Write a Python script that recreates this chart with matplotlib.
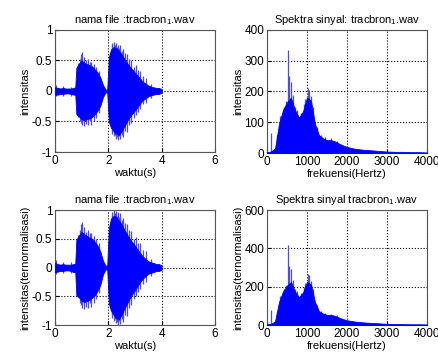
import numpy as np
import matplotlib
matplotlib.use('Agg')
import matplotlib.pyplot as plt

plt.rcParams['font.family'] = ['Liberation Sans', 'DejaVu Sans']

# Sinyal waktu (envelope atas/bawah)
waktu = [0.0, 0.1, 0.2, 0.3, 0.4, 0.5, 0.6, 0.7, 0.76, 0.8, 0.9, 1.0, 1.1, 1.2, 1.3,
         1.4, 1.5, 1.6, 1.7, 1.8, 1.9, 1.96, 2.02, 2.1, 2.2, 2.3, 2.4, 2.5, 2.6, 2.7,
         2.8, 2.9, 3.0, 3.1, 3.2, 3.3, 3.4, 3.5, 3.6, 3.7, 3.8, 3.9, 4.0]
atas1 = [0.06, 0.05, 0.04, 0.05, 0.04, 0.04, 0.04, 0.05, 0.06, 0.38, 0.45, 0.50, 0.46,
         0.44, 0.42, 0.40, 0.35, 0.30, 0.22, 0.10, 0.02, 0.03, 0.55, 0.68, 0.72, 0.70,
         0.66, 0.60, 0.53, 0.46, 0.40, 0.35, 0.30, 0.25, 0.20, 0.15, 0.12, 0.09, 0.07,
         0.06, 0.05, 0.05, 0.03]
bawah1 = [-0.06, -0.06, -0.05, -0.05, -0.04, -0.04, -0.05, -0.06, -0.06, -0.38, -0.42,
          -0.46, -0.48, -0.46, -0.45, -0.42, -0.38, -0.32, -0.24, -0.10, -0.02, -0.03,
          -0.50, -0.60, -0.66, -0.70, -0.72, -0.66, -0.58, -0.50, -0.43, -0.37, -0.32,
          -0.26, -0.20, -0.15, -0.12, -0.09, -0.07, -0.06, -0.05, -0.05, -0.03]
atas2 = [0.08, 0.06, 0.05, 0.06, 0.05, 0.05, 0.05, 0.06, 0.07, 0.48, 0.56, 0.62, 0.58,
         0.55, 0.52, 0.50, 0.44, 0.38, 0.28, 0.12, 0.03, 0.04, 0.68, 0.85, 0.90, 0.88,
         0.82, 0.75, 0.66, 0.58, 0.50, 0.44, 0.38, 0.31, 0.25, 0.19, 0.15, 0.11, 0.09,
         0.08, 0.06, 0.06, 0.04]
bawah2 = [-0.08, -0.07, -0.06, -0.06, -0.05, -0.05, -0.06, -0.08, -0.08, -0.48, -0.52,
          -0.58, -0.60, -0.58, -0.56, -0.52, -0.48, -0.40, -0.30, -0.12, -0.03, -0.04,
          -0.62, -0.75, -0.82, -0.88, -0.90, -0.82, -0.72, -0.63, -0.54, -0.46, -0.40,
          -0.32, -0.25, -0.19, -0.15, -0.11, -0.09, -0.08, -0.06, -0.06, -0.04]

# puncak-puncak tajam pada sinyal waktu
spike_t = [0.05, 0.3, 0.6, 0.85, 0.93, 0.97, 1.02, 1.08, 1.15, 1.22, 1.3, 1.35, 1.45,
           1.55, 1.65, 2.05, 2.12, 2.15, 2.2, 2.25, 2.28, 2.33, 2.36, 2.42, 2.45, 2.5,
           2.55, 2.62, 2.7, 2.78, 2.85, 2.95, 3.05, 3.12, 3.2, 3.3, 3.4, 3.6]
spike_atas1 = [0.10, 0.08, 0.07, 0.45, 0.52, 0.60, 0.63, 0.55, 0.50, 0.52, 0.48, 0.47,
               0.44, 0.40, 0.33, 0.62, 0.74, 0.78, 0.80, 0.76, 0.78, 0.72, 0.76, 0.70,
               0.75, 0.66, 0.68, 0.62, 0.60, 0.52, 0.50, 0.40, 0.42, 0.34, 0.33, 0.24,
               0.22, 0.12]
spike_bawah1 = [-0.09, -0.08, -0.08, -0.42, -0.50, -0.52, -0.56, -0.58, -0.54, -0.55,
                -0.50, -0.55, -0.50, -0.44, -0.36, -0.55, -0.68, -0.70, -0.74, -0.72,
                -0.78, -0.76, -0.80, -0.74, -0.78, -0.72, -0.76, -0.66, -0.68, -0.56,
                -0.52, -0.44, -0.40, -0.34, -0.30, -0.22, -0.20, -0.12]
spike_atas2 = [0.13, 0.10, 0.09, 0.56, 0.65, 0.75, 0.79, 0.70, 0.62, 0.66, 0.60, 0.60,
               0.55, 0.50, 0.42, 0.78, 0.92, 0.97, 1.0, 0.95, 0.98, 0.90, 0.96, 0.88,
               0.94, 0.82, 0.86, 0.78, 0.76, 0.65, 0.63, 0.50, 0.53, 0.43, 0.42, 0.30,
               0.28, 0.15]
spike_bawah2 = [-0.11, -0.10, -0.10, -0.52, -0.62, -0.66, -0.70, -0.72, -0.68, -0.70,
                -0.62, -0.68, -0.62, -0.55, -0.45, -0.70, -0.85, -0.88, -0.93, -0.90,
                -0.97, -0.95, -1.0, -0.93, -0.98, -0.90, -0.95, -0.83, -0.85, -0.70,
                -0.65, -0.55, -0.50, -0.42, -0.38, -0.28, -0.25, -0.15]

# Spektrum (envelope)
frek = [0, 100, 200, 300, 400, 500, 600, 700, 800, 900, 1000, 1100, 1200, 1300, 1400,
        1500, 1600, 1700, 1800, 1900, 2000, 2200, 2400, 2600, 2800, 3000, 3200, 3400,
        3600, 3800, 4000]
spek1 = [3, 5, 15, 95, 140, 165, 180, 140, 115, 135, 180, 170, 95, 58, 48, 42, 42, 38,
         31, 25, 20, 14, 11, 9, 7, 5, 4, 4, 3, 3, 2]
spek2 = [4, 6, 19, 120, 175, 205, 225, 175, 145, 170, 225, 212, 120, 72, 60, 53, 53, 48,
         39, 31, 25, 18, 14, 11, 9, 6, 5, 5, 4, 4, 3]
spike_f = [110, 260, 330, 390, 430, 470, 533, 560, 590, 640, 700, 760, 850, 920, 960,
           1030, 1060, 1100, 1150, 1250, 1350, 1450, 1600, 1750]
spike_v1 = [64, 60, 122, 120, 150, 170, 335, 250, 230, 190, 150, 140, 130, 160, 175,
            210, 205, 185, 150, 85, 60, 52, 48, 40]
spike_v2 = [80, 75, 150, 150, 190, 210, 420, 310, 290, 235, 190, 175, 165, 200, 220,
            265, 260, 230, 190, 105, 75, 65, 60, 50]

biru = '#0000ff'
biru_muda = '#4b4bea'

fig = plt.figure(figsize=(4.38, 3.56), dpi=100)
ax1 = fig.add_axes([0.1256, 0.573, 0.365, 0.343])
ax2 = fig.add_axes([0.6096, 0.570, 0.365, 0.346])
ax3 = fig.add_axes([0.1256, 0.087, 0.365, 0.323])
ax4 = fig.add_axes([0.6096, 0.087, 0.365, 0.323])


def gaya(ax):
    ax.grid(True, color='black', linestyle=':', linewidth=0.8)
    ax.tick_params(direction='in', labelsize=8.5, length=3, pad=2)
    for s in ax.spines.values():
        s.set_color('#555555')
        s.set_linewidth(0.8)


for ax, up, lo, sup, slo in [(ax1, atas1, bawah1, spike_atas1, spike_bawah1),
                             (ax3, atas2, bawah2, spike_atas2, spike_bawah2)]:
    ax.vlines(spike_t, slo, sup, color=biru_muda, linewidth=0.9, zorder=2)
    ax.fill_between(waktu, lo, up, color=biru, linewidth=0.6, edgecolor=biru, zorder=3)
    ax.set_xlim(0, 6)
    ax.set_ylim(-1, 1)
    ax.set_xticks([0, 2, 4, 6])
    ax.set_yticks([-1, -0.5, 0, 0.5, 1])
    ax.set_yticklabels(['-1', '-0.5', '0', '0.5', '1'])
    ax.set_xlabel('waktu(s)', fontsize=8, labelpad=1)
    ax.set_title('nama file :tracbron$_\\mathregular{1}$.wav', fontsize=8, pad=5)
    gaya(ax)

ax1.set_ylabel('intensitas', fontsize=8, labelpad=1)
ax3.set_ylabel('intensitas(ternormalisasi)', fontsize=8, labelpad=1)

for ax, sp, sv, ymax, step in [(ax2, spek1, spike_v1, 400, 100),
                               (ax4, spek2, spike_v2, 600, 200)]:
    ax.vlines(spike_f, 0, sv, color=biru_muda, linewidth=0.9, zorder=2)
    ax.fill_between(frek, 0, sp, color=biru, linewidth=0.6, edgecolor=biru, zorder=3)
    ax.set_xlim(0, 4000)
    ax.set_ylim(0, ymax)
    ax.set_xticks([0, 1000, 2000, 3000, 4000])
    ax.set_yticks(np.arange(0, ymax + 1, step))
    ax.set_xlabel('frekuensi(Hertz)', fontsize=8, labelpad=1)
    gaya(ax)

ax2.set_title('Spektra sinyal: tracbron$_\\mathregular{1}$.wav', fontsize=8, pad=5)
ax4.set_title('Spektra sinyal tracbron$_\\mathregular{1}$.wav', fontsize=8, pad=5)
ax2.set_ylabel('intensitas', fontsize=8, labelpad=1)
ax4.set_ylabel('intensitas(ternormalisasi)', fontsize=8, labelpad=1)

fig.savefig('out.png', dpi=100)
